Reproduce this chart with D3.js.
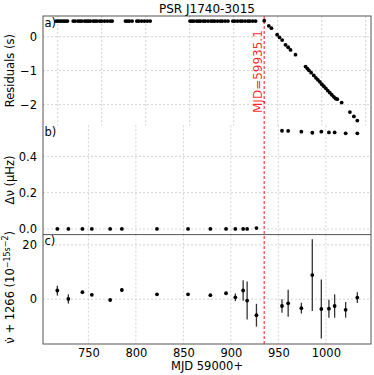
<!DOCTYPE html>
<html>
<head>
<meta charset="utf-8">
<script src="https://cdn.jsdelivr.net/npm/d3@7"></script>
<style>
  body { margin: 0; background: #fff; }
  text { font-family: "DejaVu Sans", sans-serif; }
</style>
</head>
<body>
<div id="chart-area"></div>
<script>
// timing residuals (MJD - 59000, seconds)
var resMjd = [716, 718, 720, 722, 724, 726, 728,
    734, 736, 739, 741, 743, 746, 748, 750, 752, 755, 757, 759,
    762, 764, 767, 770, 773, 775,
    789, 791, 793, 796,
    801, 803, 806, 809, 812, 815,
    857, 859, 861, 864, 866, 868, 871, 873, 876, 879, 881, 883, 886, 889, 891, 894, 897,
    902, 904, 907, 910, 912, 915, 918, 920, 923, 926,
    935.1, 939.9, 942.7, 948.7, 951.2, 954.0, 957.5, 960.3, 962.8, 968.0,
    978.6, 980.5, 982.1, 984.5, 987.3, 989.5, 991.5, 993.6, 995.7, 997.8, 999.9,
    1002.0, 1004.1, 1006.2, 1008.3, 1010.2, 1012.0,
    1016.6, 1025.3, 1029.5, 1033.1];
var resVal = [0.46, 0.46, 0.46, 0.46, 0.46, 0.46, 0.46,
    0.46, 0.46, 0.46, 0.46, 0.46, 0.46, 0.46, 0.46, 0.46, 0.46, 0.46, 0.46,
    0.46, 0.46, 0.46, 0.46, 0.46, 0.46,
    0.46, 0.46, 0.46, 0.46,
    0.46, 0.46, 0.46, 0.46, 0.46, 0.46,
    0.46, 0.46, 0.46, 0.46, 0.46, 0.46, 0.46, 0.46, 0.46, 0.46, 0.46, 0.46, 0.46, 0.46, 0.46, 0.46, 0.46,
    0.46, 0.46, 0.46, 0.46, 0.46, 0.46, 0.46, 0.46, 0.46, 0.46,
    0.47, 0.32, 0.25, 0.06, -0.02, -0.10, -0.24, -0.31, -0.39, -0.53,
    -0.88, -0.94, -0.99, -1.06, -1.14, -1.21, -1.27, -1.33, -1.40, -1.46, -1.52,
    -1.59, -1.65, -1.71, -1.77, -1.82, -1.84,
    -1.94, -2.22, -2.35, -2.47];

// epochs of the local fits
var fitMjd = [717.3, 728.9, 743.7, 753.6, 772.9, 785.2, 822.2, 854.9, 878.4, 894.9,
    904.7, 912.9, 917.1, 926.9,
    953.8, 960.3, 974.2, 985.7, 995.2, 1003.2, 1009.2, 1020.8, 1033.1];
// frequency jump (uHz)
var dnu = [0, 0, 0, 0, 0, 0, 0, 0, 0, 0,
    0, 0, 0, 0.005,
    0.541, 0.540, 0.536, 0.530, 0.536, 0.532, 0.532, 0.527, 0.527];
// spin-down + 1266 (1e-15 s^-2)
var nudot = [3.2, 0.1, 2.6, 1.6, -0.3, 3.4, 1.8, 1.8, 1.5, 2.2,
    0.7, 3.2, -0.5, -5.9,
    -2.5, -1.5, -3.3, 8.9, -3.6, -3.5, -2.5, -3.9, 0.6];
var nudotErr = [1.8, 1.7, 0.5, 0.4, 0.3, 0.7, 0.3, 0.3, 0.3, 0.4,
    1.4, 3.8, 7.0, 4.2,
    2.5, 5.0, 2.0, 13.2, 10.9, 3.3, 4.3, 2.9, 2.0];

var glitchMjd = 935.1;
var xTicks = [750, 800, 850, 900, 950, 1000];
var gridATicks = [700, 750, 800, 850, 900, 950, 1000, 1050];

var W = 374, H = 375;
var left = 43, right = 371;
var tops = [16, 125.3, 234.6], bottoms = [125.3, 234.6, 344];
var fs = 11.5;

var svg = d3.select("#chart-area").append("svg")
    .attr("width", W).attr("height", H);

var x = d3.scaleLinear().domain([702.2, 1047.5]).range([left, right]);
var xGridA = d3.scaleLinear().domain([683.3, 1056]).range([left, right]);
var ya = d3.scaleLinear().domain([-2.61, 0.61]).range([bottoms[0], tops[0]]);
var yb = d3.scaleLinear().domain([-0.031, 0.571]).range([bottoms[1], tops[1]]);
var yc = d3.scaleLinear().domain([-16.5, 23.8]).range([bottoms[2], tops[2]]);

function grid(g, xs, xt, ys, yt, i) {
    g.selectAll(".gx").data(xt).enter().append("line")
        .attr("x1", d => xs(d)).attr("x2", d => xs(d))
        .attr("y1", tops[i]).attr("y2", bottoms[i]);
    g.selectAll(".gy").data(yt).enter().append("line")
        .attr("x1", left).attr("x2", right)
        .attr("y1", d => ys(d)).attr("y2", d => ys(d));
    g.selectAll("line").attr("stroke", "#c8c8c8").attr("stroke-width", 0.8)
        .attr("stroke-dasharray", "2,2");
}

var gridG = svg.append("g");
grid(gridG.append("g"), xGridA, gridATicks, ya, [-2, -1, 0], 0);
grid(gridG.append("g"), x, xTicks, yb, [0, 0.2, 0.4], 1);
grid(gridG.append("g"), x, xTicks, yc, [0, 20], 2);

// y axes
function yAxis(ys, ticks, fmt) {
    var g = svg.append("g").attr("transform", "translate(" + left + ",0)")
        .call(d3.axisLeft(ys).tickValues(ticks).tickSize(0).tickPadding(6).tickFormat(fmt));
    g.select(".domain").remove();
    g.selectAll("text").attr("font-size", fs).attr("fill", "#000")
        .style("font-family", "DejaVu Sans");
}
yAxis(ya, [-2, -1, 0], d3.format("d"));
yAxis(yb, [0, 0.2, 0.4], d3.format(".1f"));
yAxis(yc, [0, 20], d3.format("d"));

// x axis
var xg = svg.append("g").attr("transform", "translate(0," + bottoms[2] + ")")
    .call(d3.axisBottom(x).tickValues(xTicks).tickSize(0).tickPadding(5)
        .tickFormat(d3.format("d")));
xg.select(".domain").remove();
xg.selectAll("text").attr("font-size", fs).attr("fill", "#000")
    .style("font-family", "DejaVu Sans");

// glitch line
svg.append("line")
    .attr("x1", x(glitchMjd)).attr("x2", x(glitchMjd))
    .attr("y1", tops[0]).attr("y2", bottoms[2])
    .attr("stroke", "red").attr("stroke-opacity", 0.6)
    .attr("stroke-width", 1.5).attr("stroke-dasharray", "3,2");
svg.append("text")
    .attr("transform", "translate(" + (x(glitchMjd) - 2) + ",113) rotate(-90)")
    .attr("font-size", 12).attr("fill", "red").attr("fill-opacity", 0.85)
    .text("MJD=" + (59000 + glitchMjd).toFixed(1));

// panel a
svg.append("g").selectAll("circle").data(resMjd).enter().append("circle")
    .attr("cx", d => x(d)).attr("cy", (d, i) => ya(resVal[i]))
    .attr("r", 1.9).attr("fill", "#000");

// panel b
svg.append("g").selectAll("circle").data(fitMjd).enter().append("circle")
    .attr("cx", d => x(d)).attr("cy", (d, i) => yb(dnu[i]))
    .attr("r", 1.9).attr("fill", "#000");

// panel c
var gc = svg.append("g");
gc.selectAll("line").data(fitMjd).enter().append("line")
    .attr("x1", d => x(d)).attr("x2", d => x(d))
    .attr("y1", (d, i) => yc(nudot[i] - nudotErr[i]))
    .attr("y2", (d, i) => yc(nudot[i] + nudotErr[i]))
    .attr("stroke", "#333").attr("stroke-width", 1.3);
gc.selectAll("circle").data(fitMjd).enter().append("circle")
    .attr("cx", d => x(d)).attr("cy", (d, i) => yc(nudot[i]))
    .attr("r", 1.9).attr("fill", "#000");

// frame
var spine = "#555";
svg.append("rect").attr("x", left).attr("y", tops[0])
    .attr("width", right - left).attr("height", bottoms[2] - tops[0])
    .attr("fill", "none").attr("stroke", spine).attr("stroke-width", 1);
svg.append("line").attr("x1", left).attr("x2", right)
    .attr("y1", bottoms[1]).attr("y2", bottoms[1])
    .attr("stroke", spine).attr("stroke-width", 1);

// panel tags
["a)", "b)", "c)"].forEach(function(t, i) {
    svg.append("text").attr("x", left + 1.5).attr("y", tops[i] + 10.5)
        .attr("font-size", fs).text(t);
});

// title and labels
svg.append("text").attr("x", (left + right) / 2).attr("y", 12.5)
    .attr("text-anchor", "middle").attr("font-size", 12).text("PSR J1740-3015");
svg.append("text").attr("x", (left + right) / 2).attr("y", 370)
    .attr("text-anchor", "middle").attr("font-size", fs).text("MJD 59000+");

function yLabel(cy, build) {
    var t = svg.append("text")
        .attr("transform", "translate(14," + cy + ") rotate(-90)")
        .attr("text-anchor", "middle").attr("font-size", fs);
    build(t);
}
yLabel((tops[0] + bottoms[0]) / 2, t => t.text("Residuals (s)"));
yLabel((tops[1] + bottoms[1]) / 2, t => t.text("\u0394\u03bd (\u03bcHz)"));
yLabel((tops[2] + bottoms[2]) / 2 - 2, function(t) {
    t.append("tspan").text("\u03bd\u0307 + 1266 (10");
    t.append("tspan").attr("font-size", 8).attr("dy", -4.5).text("\u221215");
    t.append("tspan").attr("font-size", 8).text("s");
    t.append("tspan").attr("font-size", 8).attr("dy", -2).text("\u22122");
    t.append("tspan").attr("dy", 6.5).text(")");
});
</script>
</body>
</html>
